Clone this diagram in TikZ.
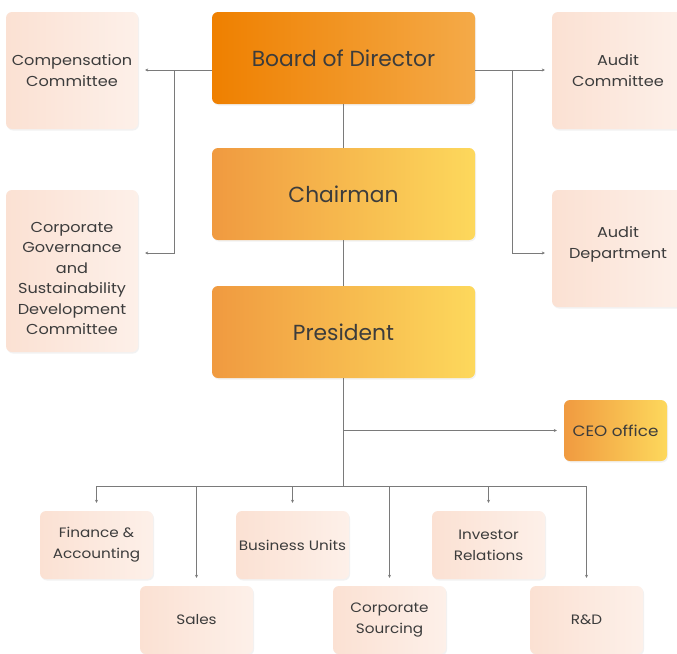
\documentclass[tikz,border=0pt]{standalone}
\usepackage{fontspec}
\setmainfont{Poppins}
\newfontfamily\widefont[FakeStretch=1.12]{Poppins}
\usetikzlibrary{arrows.meta,shadows}
\definecolor{txt}{HTML}{3C3C3C}
\definecolor{lnc}{HTML}{7A7A7A}
\definecolor{bdL}{HTML}{EF8000}
\definecolor{bdR}{HTML}{F4AA48}
\definecolor{goL}{HTML}{F09A40}
\definecolor{goR}{HTML}{FDD85C}
\definecolor{ltL}{HTML}{FBE1D3}
\definecolor{ltR}{HTML}{FDF0E9}
\begin{document}
\begin{tikzpicture}[x=1pt,y=-1pt,
  box/.style={rounded corners=6pt, text=txt, align=center, inner sep=0pt,
    drop shadow={opacity=0.10,shadow xshift=1pt,shadow yshift=-1.5pt}},
  bigbox/.style={box, minimum width=263, minimum height=92, font=\fontsize{21.8}{26}\selectfont},
  board/.style={bigbox, left color=bdL, right color=bdR},
  gold/.style={bigbox, left color=goL, right color=goR},
  ceobox/.style={box, left color=goL, right color=goR, minimum width=103, minimum height=61, font=\widefont\fontsize{15}{20.5}\selectfont},
  side/.style={box, left color=ltL, right color=ltR, minimum width=132, font=\widefont\fontsize{14.4}{20.5}\selectfont},
  sidetext/.style={text=txt, align=center, inner sep=0pt, font=\widefont\fontsize{14.4}{20.5}\selectfont},
  unit/.style={box, left color=ltL, right color=ltR, minimum width=113, minimum height=68, font=\widefont\fontsize{13.6}{21}\selectfont},
  ln/.style={draw=lnc, line width=0.9pt},
  arr/.style={ln, -{Stealth[length=3pt,width=3pt]}}
]
\clip (0,0) rectangle (677,653);
\fill[white] (0,0) rectangle (677,653);

\node[board] (board) at (343.5,58) {Board of Director};
\node[gold] (chair) at (343.5,194) {Chairman};
\node[gold] (pres) at (343.5,332) {President};
\node[ceobox] (ceo) at (615.5,430.5) {CEO office};

\node[side, minimum height=117] (comp) at (72,70.5) {Compensation\\Committee};
\node[side, minimum height=162] (cgov) at (72,271) {};
\node[sidetext] (cgovt) at (72,278.5) {Corporate\\Governance\\and\\Sustainability\\Development\\Committee};
\node[side, minimum height=117] (auc) at (618,70.5) {Audit\\Committee};
\node[side, minimum height=117] (aud) at (618,248.5) {};
\node[sidetext] (audt) at (618,244.5) {Audit\\Department};

\node[unit] (fin) at (96.5,545) {Finance \&\\Accounting};
\node[unit] (bu) at (292.5,545) {Business Units};
\node[unit] (ir) at (488.5,545) {Investor\\Relations};
\node[unit] (sales) at (196.5,620) {Sales};
\node[unit] (cs) at (389.5,620) {Corporate\\Sourcing};
\node[unit] (rd) at (586.5,620) {R\&D};

% board side branches
\coordinate (bl) at ([yshift=-12pt]board.west);
\coordinate (br) at ([yshift=-12pt]board.east);
\coordinate (jl) at (174,70);
\coordinate (jr) at (512,70);
\draw[arr, shorten >=7pt] (bl) -- (bl -| comp.east);
\draw[arr, shorten >=7pt] (jl) |- ([yshift=18pt]cgov.east);
\draw[arr, shorten >=7pt] (br) -- (br -| auc.west);
\draw[arr, shorten >=7pt] (jr) |- ([yshift=-4.5pt]aud.west);

% spine
\draw[ln] (board) -- (chair);
\draw[ln] (chair) -- (pres);
\coordinate (bus) at (343.5,486);
\draw[ln] (pres.south) -- (bus);
\draw[arr, shorten >=7pt] (pres.south |- ceo.west) -- (ceo.west);

% bottom bus
\draw[ln] (fin.north |- bus) -- (rd.north |- bus);
\foreach \n in {fin,bu,ir,sales,cs,rd}{
  \draw[arr, shorten >=8pt] (\n.north |- bus) -- (\n.north);
}
\end{tikzpicture}
\end{document}
